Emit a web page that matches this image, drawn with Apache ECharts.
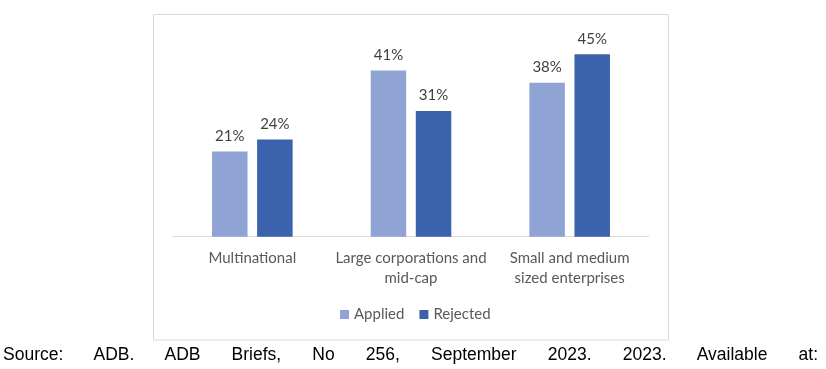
<!DOCTYPE html>
<html>
<head>
<meta charset="utf-8">
<script src="https://cdn.jsdelivr.net/npm/echarts@6/dist/echarts.min.js"></script>
<style>
html,body{margin:0;padding:0;background:#fff;}
#chart{position:absolute;left:0;top:0;width:826px;height:369px;}
#src{position:absolute;left:3px;top:343px;width:815px;font-family:"Liberation Sans",Arial,sans-serif;font-size:17.5px;color:#000;text-align:justify;text-align-last:justify;white-space:nowrap;line-height:22px;}
</style>
</head>
<body>
<div id="chart"></div>
<div id="src">Source: ADB. ADB Briefs, No 256, September 2023. 2023. Available at:</div>
<script>
var categories = ["Multinational", "Large corporations and\nmid-cap", "Small and medium\nsized enterprises"];
var seriesNames = ["Applied", "Rejected"];
var applied = [21, 41, 38];
var rejected = [24, 31, 45];

var chart = echarts.init(document.getElementById('chart'), null, {renderer:'canvas'});
var font = 'Lato, "Open Sans", sans-serif';
var labelCfg = {show:true, position:'top', distance:8, formatter:function(p){return p.value+'%';}, color:'#404040', fontSize:15, fontFamily:font};
chart.setOption({
  animation:false,
  graphic:[{type:'rect', shape:{x:153.5, y:14.5, width:515, height:325.5}, style:{fill:'none', stroke:'#d9d9d9', lineWidth:1}, silent:true, z:-1}],
  grid:{left:173, right:177, top:34, bottom:132.3},
  legend:{data:seriesNames, left:335, top:302, itemWidth:9, itemHeight:9, itemGap:15, icon:'rect', textStyle:{color:'#595959', fontSize:15, fontFamily:font}},
  xAxis:{type:'category', data:categories, axisLine:{lineStyle:{color:'#d9d9d9', width:1}}, axisTick:{show:false},
    axisLabel:{color:'#595959', fontSize:15, fontFamily:font, margin:11, lineHeight:20, interval:0}},
  yAxis:{type:'value', min:0, max:50, show:false, splitLine:{show:false}},
  series:[
    {name:'Applied', type:'bar', data:applied, barWidth:35.5, barGap:'27%', itemStyle:{color:'#8FA4D5'}, label:labelCfg},
    {name:'Rejected', type:'bar', data:rejected, barWidth:35.5, barGap:'27%', itemStyle:{color:'#3B63AD'}, label:labelCfg}
  ]
});
</script>
</body>
</html>
